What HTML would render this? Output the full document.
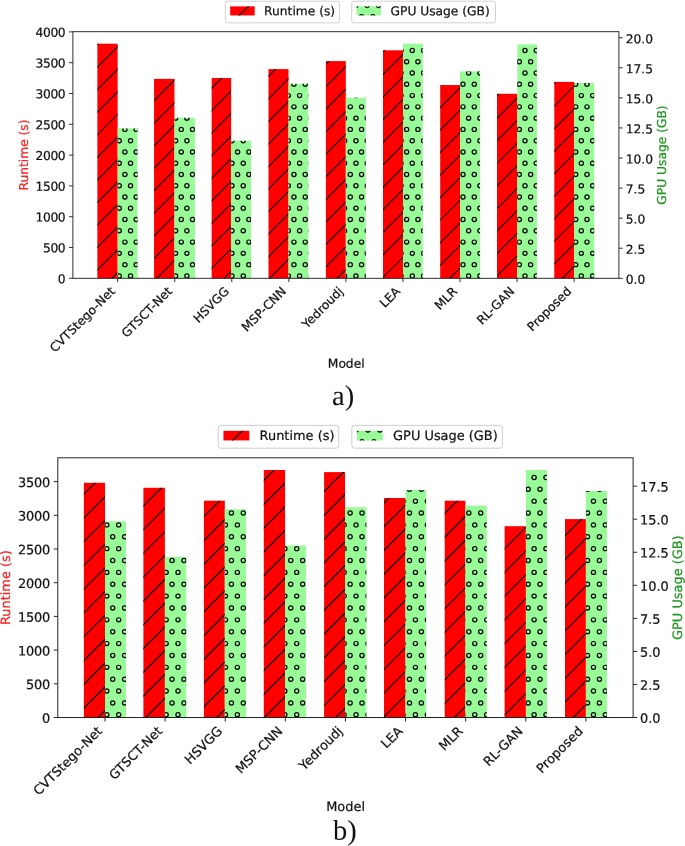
<!DOCTYPE html>
<html lang="en"><head><meta charset="utf-8"><title>Runtime and GPU usage</title>
<style>html,body{margin:0;padding:0;background:#fff;overflow:hidden}svg{display:block;will-change:transform}</style></head>
<body>
<svg width="685" height="846" viewBox="0 0 685 846" font-family="'DejaVu Sans','Liberation Sans',sans-serif" text-rendering="geometricPrecision">
<rect width="685" height="846" fill="#fff"/>
<rect x="97.35" y="43.7" width="20.3" height="234.6" fill="#ff0000" stroke="none"/>
<clipPath id="ca1"><rect x="97.35" y="43.7" width="20.3" height="234.6"/></clipPath>
<path clip-path="url(#ca1)" d="M95.35 46.61L119.65 22.31M95.35 69.15L119.65 44.85M95.35 91.69L119.65 67.39M95.35 114.23L119.65 89.93M95.35 136.77L119.65 112.47M95.35 159.31L119.65 135.01M95.35 181.85L119.65 157.55M95.35 204.39L119.65 180.09M95.35 226.93L119.65 202.63M95.35 249.47L119.65 225.17M95.35 272.01L119.65 247.71M95.35 294.55L119.65 270.25" stroke="#000" stroke-width="1.05" fill="none"/>
<rect x="117.65" y="128.4" width="19.85" height="149.9" fill="#98fb98" stroke="none"/>
<clipPath id="ca2"><rect x="117.65" y="128.4" width="19.85" height="149.9"/></clipPath>
<g clip-path="url(#ca2)" fill="none" stroke="#000" stroke-width="1.22"><circle cx="124.9" cy="129.4" r="2.1"/><circle cx="136.17" cy="129.4" r="2.1"/><circle cx="119.27" cy="140.67" r="2.1"/><circle cx="130.53" cy="140.67" r="2.1"/><circle cx="124.9" cy="151.94" r="2.1"/><circle cx="136.17" cy="151.94" r="2.1"/><circle cx="119.27" cy="163.21" r="2.1"/><circle cx="130.53" cy="163.21" r="2.1"/><circle cx="124.9" cy="174.48" r="2.1"/><circle cx="136.17" cy="174.48" r="2.1"/><circle cx="119.27" cy="185.75" r="2.1"/><circle cx="130.53" cy="185.75" r="2.1"/><circle cx="124.9" cy="197.02" r="2.1"/><circle cx="136.17" cy="197.02" r="2.1"/><circle cx="119.27" cy="208.29" r="2.1"/><circle cx="130.53" cy="208.29" r="2.1"/><circle cx="124.9" cy="219.56" r="2.1"/><circle cx="136.17" cy="219.56" r="2.1"/><circle cx="119.27" cy="230.83" r="2.1"/><circle cx="130.53" cy="230.83" r="2.1"/><circle cx="124.9" cy="242.1" r="2.1"/><circle cx="136.17" cy="242.1" r="2.1"/><circle cx="119.27" cy="253.37" r="2.1"/><circle cx="130.53" cy="253.37" r="2.1"/><circle cx="124.9" cy="264.64" r="2.1"/><circle cx="136.17" cy="264.64" r="2.1"/><circle cx="119.27" cy="275.91" r="2.1"/><circle cx="130.53" cy="275.91" r="2.1"/></g>
<rect x="154.05" y="78.9" width="20.4" height="199.4" fill="#ff0000" stroke="none"/>
<clipPath id="ca3"><rect x="154.05" y="78.9" width="20.4" height="199.4"/></clipPath>
<path clip-path="url(#ca3)" d="M152.05 80.07L176.45 55.67M152.05 102.61L176.45 78.21M152.05 125.15L176.45 100.75M152.05 147.69L176.45 123.29M152.05 170.23L176.45 145.83M152.05 192.77L176.45 168.37M152.05 215.31L176.45 190.91M152.05 237.85L176.45 213.45M152.05 260.39L176.45 235.99M152.05 282.93L176.45 258.53" stroke="#000" stroke-width="1.05" fill="none"/>
<rect x="174.45" y="117.8" width="20.45" height="160.5" fill="#98fb98" stroke="none"/>
<clipPath id="ca4"><rect x="174.45" y="117.8" width="20.45" height="160.5"/></clipPath>
<g clip-path="url(#ca4)" fill="none" stroke="#000" stroke-width="1.22"><circle cx="175.62" cy="118.13" r="2.1"/><circle cx="186.88" cy="118.13" r="2.1"/><circle cx="198.16" cy="118.13" r="2.1"/><circle cx="181.25" cy="129.4" r="2.1"/><circle cx="192.52" cy="129.4" r="2.1"/><circle cx="175.62" cy="140.67" r="2.1"/><circle cx="186.88" cy="140.67" r="2.1"/><circle cx="198.16" cy="140.67" r="2.1"/><circle cx="181.25" cy="151.94" r="2.1"/><circle cx="192.52" cy="151.94" r="2.1"/><circle cx="175.62" cy="163.21" r="2.1"/><circle cx="186.88" cy="163.21" r="2.1"/><circle cx="198.16" cy="163.21" r="2.1"/><circle cx="181.25" cy="174.48" r="2.1"/><circle cx="192.52" cy="174.48" r="2.1"/><circle cx="175.62" cy="185.75" r="2.1"/><circle cx="186.88" cy="185.75" r="2.1"/><circle cx="198.16" cy="185.75" r="2.1"/><circle cx="181.25" cy="197.02" r="2.1"/><circle cx="192.52" cy="197.02" r="2.1"/><circle cx="175.62" cy="208.29" r="2.1"/><circle cx="186.88" cy="208.29" r="2.1"/><circle cx="198.16" cy="208.29" r="2.1"/><circle cx="181.25" cy="219.56" r="2.1"/><circle cx="192.52" cy="219.56" r="2.1"/><circle cx="175.62" cy="230.83" r="2.1"/><circle cx="186.88" cy="230.83" r="2.1"/><circle cx="198.16" cy="230.83" r="2.1"/><circle cx="181.25" cy="242.1" r="2.1"/><circle cx="192.52" cy="242.1" r="2.1"/><circle cx="175.62" cy="253.37" r="2.1"/><circle cx="186.88" cy="253.37" r="2.1"/><circle cx="198.16" cy="253.37" r="2.1"/><circle cx="181.25" cy="264.64" r="2.1"/><circle cx="192.52" cy="264.64" r="2.1"/><circle cx="175.62" cy="275.91" r="2.1"/><circle cx="186.88" cy="275.91" r="2.1"/><circle cx="198.16" cy="275.91" r="2.1"/></g>
<rect x="211.65" y="78" width="19.45" height="200.3" fill="#ff0000" stroke="none"/>
<clipPath id="ca5"><rect x="211.65" y="78" width="19.45" height="200.3"/></clipPath>
<path clip-path="url(#ca5)" d="M209.65 90.09L233.1 66.64M209.65 112.63L233.1 89.18M209.65 135.17L233.1 111.72M209.65 157.71L233.1 134.26M209.65 180.25L233.1 156.8M209.65 202.79L233.1 179.34M209.65 225.33L233.1 201.88M209.65 247.87L233.1 224.42M209.65 270.41L233.1 246.96M209.65 292.95L233.1 269.5" stroke="#000" stroke-width="1.05" fill="none"/>
<rect x="231.1" y="140.7" width="20" height="137.6" fill="#98fb98" stroke="none"/>
<clipPath id="ca6"><rect x="231.1" y="140.7" width="20" height="137.6"/></clipPath>
<g clip-path="url(#ca6)" fill="none" stroke="#000" stroke-width="1.22"><circle cx="231.96" cy="140.67" r="2.1"/><circle cx="243.23" cy="140.67" r="2.1"/><circle cx="237.6" cy="151.94" r="2.1"/><circle cx="248.87" cy="151.94" r="2.1"/><circle cx="231.96" cy="163.21" r="2.1"/><circle cx="243.23" cy="163.21" r="2.1"/><circle cx="237.6" cy="174.48" r="2.1"/><circle cx="248.87" cy="174.48" r="2.1"/><circle cx="231.96" cy="185.75" r="2.1"/><circle cx="243.23" cy="185.75" r="2.1"/><circle cx="237.6" cy="197.02" r="2.1"/><circle cx="248.87" cy="197.02" r="2.1"/><circle cx="231.96" cy="208.29" r="2.1"/><circle cx="243.23" cy="208.29" r="2.1"/><circle cx="237.6" cy="219.56" r="2.1"/><circle cx="248.87" cy="219.56" r="2.1"/><circle cx="231.96" cy="230.83" r="2.1"/><circle cx="243.23" cy="230.83" r="2.1"/><circle cx="237.6" cy="242.1" r="2.1"/><circle cx="248.87" cy="242.1" r="2.1"/><circle cx="231.96" cy="253.37" r="2.1"/><circle cx="243.23" cy="253.37" r="2.1"/><circle cx="237.6" cy="264.64" r="2.1"/><circle cx="248.87" cy="264.64" r="2.1"/><circle cx="231.96" cy="275.91" r="2.1"/><circle cx="243.23" cy="275.91" r="2.1"/></g>
<rect x="268.5" y="69.1" width="20" height="209.2" fill="#ff0000" stroke="none"/>
<clipPath id="ca7"><rect x="268.5" y="69.1" width="20" height="209.2"/></clipPath>
<path clip-path="url(#ca7)" d="M266.5 78.32L290.5 54.32M266.5 100.86L290.5 76.86M266.5 123.4L290.5 99.4M266.5 145.94L290.5 121.94M266.5 168.48L290.5 144.48M266.5 191.02L290.5 167.02M266.5 213.56L290.5 189.56M266.5 236.1L290.5 212.1M266.5 258.64L290.5 234.64M266.5 281.18L290.5 257.18M266.5 303.72L290.5 279.72" stroke="#000" stroke-width="1.05" fill="none"/>
<rect x="288.5" y="83.8" width="19.8" height="194.5" fill="#98fb98" stroke="none"/>
<clipPath id="ca8"><rect x="288.5" y="83.8" width="19.8" height="194.5"/></clipPath>
<g clip-path="url(#ca8)" fill="none" stroke="#000" stroke-width="1.22"><circle cx="293.95" cy="84.32" r="2.1"/><circle cx="305.22" cy="84.32" r="2.1"/><circle cx="288.31" cy="95.59" r="2.1"/><circle cx="299.58" cy="95.59" r="2.1"/><circle cx="310.86" cy="95.59" r="2.1"/><circle cx="293.95" cy="106.86" r="2.1"/><circle cx="305.22" cy="106.86" r="2.1"/><circle cx="288.31" cy="118.13" r="2.1"/><circle cx="299.58" cy="118.13" r="2.1"/><circle cx="310.86" cy="118.13" r="2.1"/><circle cx="293.95" cy="129.4" r="2.1"/><circle cx="305.22" cy="129.4" r="2.1"/><circle cx="288.31" cy="140.67" r="2.1"/><circle cx="299.58" cy="140.67" r="2.1"/><circle cx="310.86" cy="140.67" r="2.1"/><circle cx="293.95" cy="151.94" r="2.1"/><circle cx="305.22" cy="151.94" r="2.1"/><circle cx="288.31" cy="163.21" r="2.1"/><circle cx="299.58" cy="163.21" r="2.1"/><circle cx="310.86" cy="163.21" r="2.1"/><circle cx="293.95" cy="174.48" r="2.1"/><circle cx="305.22" cy="174.48" r="2.1"/><circle cx="288.31" cy="185.75" r="2.1"/><circle cx="299.58" cy="185.75" r="2.1"/><circle cx="310.86" cy="185.75" r="2.1"/><circle cx="293.95" cy="197.02" r="2.1"/><circle cx="305.22" cy="197.02" r="2.1"/><circle cx="288.31" cy="208.29" r="2.1"/><circle cx="299.58" cy="208.29" r="2.1"/><circle cx="310.86" cy="208.29" r="2.1"/><circle cx="293.95" cy="219.56" r="2.1"/><circle cx="305.22" cy="219.56" r="2.1"/><circle cx="288.31" cy="230.83" r="2.1"/><circle cx="299.58" cy="230.83" r="2.1"/><circle cx="310.86" cy="230.83" r="2.1"/><circle cx="293.95" cy="242.1" r="2.1"/><circle cx="305.22" cy="242.1" r="2.1"/><circle cx="288.31" cy="253.37" r="2.1"/><circle cx="299.58" cy="253.37" r="2.1"/><circle cx="310.86" cy="253.37" r="2.1"/><circle cx="293.95" cy="264.64" r="2.1"/><circle cx="305.22" cy="264.64" r="2.1"/><circle cx="288.31" cy="275.91" r="2.1"/><circle cx="299.58" cy="275.91" r="2.1"/><circle cx="310.86" cy="275.91" r="2.1"/></g>
<rect x="325.9" y="61.1" width="19.9" height="217.2" fill="#ff0000" stroke="none"/>
<clipPath id="ca9"><rect x="325.9" y="61.1" width="19.9" height="217.2"/></clipPath>
<path clip-path="url(#ca9)" d="M323.9 66L347.8 42.1M323.9 88.54L347.8 64.64M323.9 111.08L347.8 87.18M323.9 133.62L347.8 109.72M323.9 156.16L347.8 132.26M323.9 178.7L347.8 154.8M323.9 201.24L347.8 177.34M323.9 223.78L347.8 199.88M323.9 246.32L347.8 222.42M323.9 268.86L347.8 244.96M323.9 291.4L347.8 267.5" stroke="#000" stroke-width="1.05" fill="none"/>
<rect x="345.8" y="97.8" width="20" height="180.5" fill="#98fb98" stroke="none"/>
<clipPath id="ca10"><rect x="345.8" y="97.8" width="20" height="180.5"/></clipPath>
<g clip-path="url(#ca10)" fill="none" stroke="#000" stroke-width="1.22"><circle cx="344.66" cy="95.59" r="2.1"/><circle cx="355.93" cy="95.59" r="2.1"/><circle cx="367.2" cy="95.59" r="2.1"/><circle cx="350.3" cy="106.86" r="2.1"/><circle cx="361.57" cy="106.86" r="2.1"/><circle cx="344.66" cy="118.13" r="2.1"/><circle cx="355.93" cy="118.13" r="2.1"/><circle cx="367.2" cy="118.13" r="2.1"/><circle cx="350.3" cy="129.4" r="2.1"/><circle cx="361.57" cy="129.4" r="2.1"/><circle cx="344.66" cy="140.67" r="2.1"/><circle cx="355.93" cy="140.67" r="2.1"/><circle cx="367.2" cy="140.67" r="2.1"/><circle cx="350.3" cy="151.94" r="2.1"/><circle cx="361.57" cy="151.94" r="2.1"/><circle cx="344.66" cy="163.21" r="2.1"/><circle cx="355.93" cy="163.21" r="2.1"/><circle cx="367.2" cy="163.21" r="2.1"/><circle cx="350.3" cy="174.48" r="2.1"/><circle cx="361.57" cy="174.48" r="2.1"/><circle cx="344.66" cy="185.75" r="2.1"/><circle cx="355.93" cy="185.75" r="2.1"/><circle cx="367.2" cy="185.75" r="2.1"/><circle cx="350.3" cy="197.02" r="2.1"/><circle cx="361.57" cy="197.02" r="2.1"/><circle cx="344.66" cy="208.29" r="2.1"/><circle cx="355.93" cy="208.29" r="2.1"/><circle cx="367.2" cy="208.29" r="2.1"/><circle cx="350.3" cy="219.56" r="2.1"/><circle cx="361.57" cy="219.56" r="2.1"/><circle cx="344.66" cy="230.83" r="2.1"/><circle cx="355.93" cy="230.83" r="2.1"/><circle cx="367.2" cy="230.83" r="2.1"/><circle cx="350.3" cy="242.1" r="2.1"/><circle cx="361.57" cy="242.1" r="2.1"/><circle cx="344.66" cy="253.37" r="2.1"/><circle cx="355.93" cy="253.37" r="2.1"/><circle cx="367.2" cy="253.37" r="2.1"/><circle cx="350.3" cy="264.64" r="2.1"/><circle cx="361.57" cy="264.64" r="2.1"/><circle cx="344.66" cy="275.91" r="2.1"/><circle cx="355.93" cy="275.91" r="2.1"/><circle cx="367.2" cy="275.91" r="2.1"/></g>
<rect x="383" y="50.3" width="20" height="228" fill="#ff0000" stroke="none"/>
<clipPath id="ca11"><rect x="383" y="50.3" width="20" height="228"/></clipPath>
<path clip-path="url(#ca11)" d="M381 53.98L405 29.98M381 76.52L405 52.52M381 99.06L405 75.06M381 121.6L405 97.6M381 144.14L405 120.14M381 166.68L405 142.68M381 189.22L405 165.22M381 211.76L405 187.76M381 234.3L405 210.3M381 256.84L405 232.84M381 279.38L405 255.38M381 301.92L405 277.92" stroke="#000" stroke-width="1.05" fill="none"/>
<rect x="403" y="43.6" width="19.8" height="234.7" fill="#98fb98" stroke="none"/>
<clipPath id="ca12"><rect x="403" y="43.6" width="19.8" height="234.7"/></clipPath>
<g clip-path="url(#ca12)" fill="none" stroke="#000" stroke-width="1.22"><circle cx="401.01" cy="50.51" r="2.1"/><circle cx="412.28" cy="50.51" r="2.1"/><circle cx="423.55" cy="50.51" r="2.1"/><circle cx="406.65" cy="61.78" r="2.1"/><circle cx="417.92" cy="61.78" r="2.1"/><circle cx="401.01" cy="73.05" r="2.1"/><circle cx="412.28" cy="73.05" r="2.1"/><circle cx="423.55" cy="73.05" r="2.1"/><circle cx="406.65" cy="84.32" r="2.1"/><circle cx="417.92" cy="84.32" r="2.1"/><circle cx="401.01" cy="95.59" r="2.1"/><circle cx="412.28" cy="95.59" r="2.1"/><circle cx="423.55" cy="95.59" r="2.1"/><circle cx="406.65" cy="106.86" r="2.1"/><circle cx="417.92" cy="106.86" r="2.1"/><circle cx="401.01" cy="118.13" r="2.1"/><circle cx="412.28" cy="118.13" r="2.1"/><circle cx="423.55" cy="118.13" r="2.1"/><circle cx="406.65" cy="129.4" r="2.1"/><circle cx="417.92" cy="129.4" r="2.1"/><circle cx="401.01" cy="140.67" r="2.1"/><circle cx="412.28" cy="140.67" r="2.1"/><circle cx="423.55" cy="140.67" r="2.1"/><circle cx="406.65" cy="151.94" r="2.1"/><circle cx="417.92" cy="151.94" r="2.1"/><circle cx="401.01" cy="163.21" r="2.1"/><circle cx="412.28" cy="163.21" r="2.1"/><circle cx="423.55" cy="163.21" r="2.1"/><circle cx="406.65" cy="174.48" r="2.1"/><circle cx="417.92" cy="174.48" r="2.1"/><circle cx="401.01" cy="185.75" r="2.1"/><circle cx="412.28" cy="185.75" r="2.1"/><circle cx="423.55" cy="185.75" r="2.1"/><circle cx="406.65" cy="197.02" r="2.1"/><circle cx="417.92" cy="197.02" r="2.1"/><circle cx="401.01" cy="208.29" r="2.1"/><circle cx="412.28" cy="208.29" r="2.1"/><circle cx="423.55" cy="208.29" r="2.1"/><circle cx="406.65" cy="219.56" r="2.1"/><circle cx="417.92" cy="219.56" r="2.1"/><circle cx="401.01" cy="230.83" r="2.1"/><circle cx="412.28" cy="230.83" r="2.1"/><circle cx="423.55" cy="230.83" r="2.1"/><circle cx="406.65" cy="242.1" r="2.1"/><circle cx="417.92" cy="242.1" r="2.1"/><circle cx="401.01" cy="253.37" r="2.1"/><circle cx="412.28" cy="253.37" r="2.1"/><circle cx="423.55" cy="253.37" r="2.1"/><circle cx="406.65" cy="264.64" r="2.1"/><circle cx="417.92" cy="264.64" r="2.1"/><circle cx="401.01" cy="275.91" r="2.1"/><circle cx="412.28" cy="275.91" r="2.1"/><circle cx="423.55" cy="275.91" r="2.1"/></g>
<rect x="440.2" y="85.05" width="19.8" height="193.25" fill="#ff0000" stroke="none"/>
<clipPath id="ca13"><rect x="440.2" y="85.05" width="19.8" height="193.25"/></clipPath>
<path clip-path="url(#ca13)" d="M438.2 86.94L462 63.14M438.2 109.48L462 85.68M438.2 132.02L462 108.22M438.2 154.56L462 130.76M438.2 177.1L462 153.3M438.2 199.64L462 175.84M438.2 222.18L462 198.38M438.2 244.72L462 220.92M438.2 267.26L462 243.46M438.2 289.8L462 266" stroke="#000" stroke-width="1.05" fill="none"/>
<rect x="460" y="71.4" width="20.1" height="206.9" fill="#98fb98" stroke="none"/>
<clipPath id="ca14"><rect x="460" y="71.4" width="20.1" height="206.9"/></clipPath>
<g clip-path="url(#ca14)" fill="none" stroke="#000" stroke-width="1.22"><circle cx="457.37" cy="73.05" r="2.1"/><circle cx="468.63" cy="73.05" r="2.1"/><circle cx="479.9" cy="73.05" r="2.1"/><circle cx="463" cy="84.32" r="2.1"/><circle cx="474.27" cy="84.32" r="2.1"/><circle cx="457.37" cy="95.59" r="2.1"/><circle cx="468.63" cy="95.59" r="2.1"/><circle cx="479.9" cy="95.59" r="2.1"/><circle cx="463" cy="106.86" r="2.1"/><circle cx="474.27" cy="106.86" r="2.1"/><circle cx="457.37" cy="118.13" r="2.1"/><circle cx="468.63" cy="118.13" r="2.1"/><circle cx="479.9" cy="118.13" r="2.1"/><circle cx="463" cy="129.4" r="2.1"/><circle cx="474.27" cy="129.4" r="2.1"/><circle cx="457.37" cy="140.67" r="2.1"/><circle cx="468.63" cy="140.67" r="2.1"/><circle cx="479.9" cy="140.67" r="2.1"/><circle cx="463" cy="151.94" r="2.1"/><circle cx="474.27" cy="151.94" r="2.1"/><circle cx="457.37" cy="163.21" r="2.1"/><circle cx="468.63" cy="163.21" r="2.1"/><circle cx="479.9" cy="163.21" r="2.1"/><circle cx="463" cy="174.48" r="2.1"/><circle cx="474.27" cy="174.48" r="2.1"/><circle cx="457.37" cy="185.75" r="2.1"/><circle cx="468.63" cy="185.75" r="2.1"/><circle cx="479.9" cy="185.75" r="2.1"/><circle cx="463" cy="197.02" r="2.1"/><circle cx="474.27" cy="197.02" r="2.1"/><circle cx="457.37" cy="208.29" r="2.1"/><circle cx="468.63" cy="208.29" r="2.1"/><circle cx="479.9" cy="208.29" r="2.1"/><circle cx="463" cy="219.56" r="2.1"/><circle cx="474.27" cy="219.56" r="2.1"/><circle cx="457.37" cy="230.83" r="2.1"/><circle cx="468.63" cy="230.83" r="2.1"/><circle cx="479.9" cy="230.83" r="2.1"/><circle cx="463" cy="242.1" r="2.1"/><circle cx="474.27" cy="242.1" r="2.1"/><circle cx="457.37" cy="253.37" r="2.1"/><circle cx="468.63" cy="253.37" r="2.1"/><circle cx="479.9" cy="253.37" r="2.1"/><circle cx="463" cy="264.64" r="2.1"/><circle cx="474.27" cy="264.64" r="2.1"/><circle cx="457.37" cy="275.91" r="2.1"/><circle cx="468.63" cy="275.91" r="2.1"/><circle cx="479.9" cy="275.91" r="2.1"/></g>
<rect x="497" y="93.8" width="20.3" height="184.5" fill="#ff0000" stroke="none"/>
<clipPath id="ca15"><rect x="497" y="93.8" width="20.3" height="184.5"/></clipPath>
<path clip-path="url(#ca15)" d="M495 97.76L519.3 73.46M495 120.3L519.3 96M495 142.84L519.3 118.54M495 165.38L519.3 141.08M495 187.92L519.3 163.62M495 210.46L519.3 186.16M495 233L519.3 208.7M495 255.54L519.3 231.24M495 278.08L519.3 253.78M495 300.62L519.3 276.32" stroke="#000" stroke-width="1.05" fill="none"/>
<rect x="517.3" y="44.4" width="19.6" height="233.9" fill="#98fb98" stroke="none"/>
<clipPath id="ca16"><rect x="517.3" y="44.4" width="19.6" height="233.9"/></clipPath>
<g clip-path="url(#ca16)" fill="none" stroke="#000" stroke-width="1.22"><circle cx="524.99" cy="50.51" r="2.1"/><circle cx="536.25" cy="50.51" r="2.1"/><circle cx="519.35" cy="61.78" r="2.1"/><circle cx="530.62" cy="61.78" r="2.1"/><circle cx="524.99" cy="73.05" r="2.1"/><circle cx="536.25" cy="73.05" r="2.1"/><circle cx="519.35" cy="84.32" r="2.1"/><circle cx="530.62" cy="84.32" r="2.1"/><circle cx="524.99" cy="95.59" r="2.1"/><circle cx="536.25" cy="95.59" r="2.1"/><circle cx="519.35" cy="106.86" r="2.1"/><circle cx="530.62" cy="106.86" r="2.1"/><circle cx="524.99" cy="118.13" r="2.1"/><circle cx="536.25" cy="118.13" r="2.1"/><circle cx="519.35" cy="129.4" r="2.1"/><circle cx="530.62" cy="129.4" r="2.1"/><circle cx="524.99" cy="140.67" r="2.1"/><circle cx="536.25" cy="140.67" r="2.1"/><circle cx="519.35" cy="151.94" r="2.1"/><circle cx="530.62" cy="151.94" r="2.1"/><circle cx="524.99" cy="163.21" r="2.1"/><circle cx="536.25" cy="163.21" r="2.1"/><circle cx="519.35" cy="174.48" r="2.1"/><circle cx="530.62" cy="174.48" r="2.1"/><circle cx="524.99" cy="185.75" r="2.1"/><circle cx="536.25" cy="185.75" r="2.1"/><circle cx="519.35" cy="197.02" r="2.1"/><circle cx="530.62" cy="197.02" r="2.1"/><circle cx="524.99" cy="208.29" r="2.1"/><circle cx="536.25" cy="208.29" r="2.1"/><circle cx="519.35" cy="219.56" r="2.1"/><circle cx="530.62" cy="219.56" r="2.1"/><circle cx="524.99" cy="230.83" r="2.1"/><circle cx="536.25" cy="230.83" r="2.1"/><circle cx="519.35" cy="242.1" r="2.1"/><circle cx="530.62" cy="242.1" r="2.1"/><circle cx="524.99" cy="253.37" r="2.1"/><circle cx="536.25" cy="253.37" r="2.1"/><circle cx="519.35" cy="264.64" r="2.1"/><circle cx="530.62" cy="264.64" r="2.1"/><circle cx="524.99" cy="275.91" r="2.1"/><circle cx="536.25" cy="275.91" r="2.1"/></g>
<rect x="554.3" y="81.9" width="19.8" height="196.4" fill="#ff0000" stroke="none"/>
<clipPath id="ca17"><rect x="554.3" y="81.9" width="19.8" height="196.4"/></clipPath>
<path clip-path="url(#ca17)" d="M552.3 85.54L576.1 61.74M552.3 108.08L576.1 84.28M552.3 130.62L576.1 106.82M552.3 153.16L576.1 129.36M552.3 175.7L576.1 151.9M552.3 198.24L576.1 174.44M552.3 220.78L576.1 196.98M552.3 243.32L576.1 219.52M552.3 265.86L576.1 242.06M552.3 288.4L576.1 264.6" stroke="#000" stroke-width="1.05" fill="none"/>
<rect x="574.1" y="83" width="20.1" height="195.3" fill="#98fb98" stroke="none"/>
<clipPath id="ca18"><rect x="574.1" y="83" width="20.1" height="195.3"/></clipPath>
<g clip-path="url(#ca18)" fill="none" stroke="#000" stroke-width="1.22"><circle cx="575.7" cy="84.32" r="2.1"/><circle cx="586.97" cy="84.32" r="2.1"/><circle cx="581.33" cy="95.59" r="2.1"/><circle cx="592.61" cy="95.59" r="2.1"/><circle cx="575.7" cy="106.86" r="2.1"/><circle cx="586.97" cy="106.86" r="2.1"/><circle cx="581.33" cy="118.13" r="2.1"/><circle cx="592.61" cy="118.13" r="2.1"/><circle cx="575.7" cy="129.4" r="2.1"/><circle cx="586.97" cy="129.4" r="2.1"/><circle cx="581.33" cy="140.67" r="2.1"/><circle cx="592.61" cy="140.67" r="2.1"/><circle cx="575.7" cy="151.94" r="2.1"/><circle cx="586.97" cy="151.94" r="2.1"/><circle cx="581.33" cy="163.21" r="2.1"/><circle cx="592.61" cy="163.21" r="2.1"/><circle cx="575.7" cy="174.48" r="2.1"/><circle cx="586.97" cy="174.48" r="2.1"/><circle cx="581.33" cy="185.75" r="2.1"/><circle cx="592.61" cy="185.75" r="2.1"/><circle cx="575.7" cy="197.02" r="2.1"/><circle cx="586.97" cy="197.02" r="2.1"/><circle cx="581.33" cy="208.29" r="2.1"/><circle cx="592.61" cy="208.29" r="2.1"/><circle cx="575.7" cy="219.56" r="2.1"/><circle cx="586.97" cy="219.56" r="2.1"/><circle cx="581.33" cy="230.83" r="2.1"/><circle cx="592.61" cy="230.83" r="2.1"/><circle cx="575.7" cy="242.1" r="2.1"/><circle cx="586.97" cy="242.1" r="2.1"/><circle cx="581.33" cy="253.37" r="2.1"/><circle cx="592.61" cy="253.37" r="2.1"/><circle cx="575.7" cy="264.64" r="2.1"/><circle cx="586.97" cy="264.64" r="2.1"/><circle cx="581.33" cy="275.91" r="2.1"/><circle cx="592.61" cy="275.91" r="2.1"/></g>
<rect x="72.9" y="31.7" width="546" height="246.6" fill="none" stroke="#1a1a1a" stroke-width="0.9"/>
<path d="M72.9 278.3h-3.8M72.9 247.5h-3.8M72.9 216.7h-3.8M72.9 185.9h-3.8M72.9 155.1h-3.8M72.9 124.3h-3.8M72.9 93.5h-3.8M72.9 62.7h-3.8M72.9 31.9h-3.8M618.9 278.3h3.8M618.9 248.23h3.8M618.9 218.16h3.8M618.9 188.09h3.8M618.9 158.02h3.8M618.9 127.95h3.8M618.9 97.88h3.8M618.9 67.81h3.8M618.9 37.74h3.8M117.7 278.3v3.8M174.75 278.3v3.8M231.8 278.3v3.8M288.85 278.3v3.8M345.9 278.3v3.8M402.95 278.3v3.8M460 278.3v3.8M517.05 278.3v3.8M574.1 278.3v3.8" stroke="#1a1a1a" stroke-width="0.9" fill="none"/>
<g font-size="12.25" fill="#111" stroke="#111" stroke-width="0.22" stroke-linejoin="round">
<text transform="translate(65.3,283.17) rotate(0.03)" text-anchor="end" letter-spacing="-0.35">0</text>
<text transform="translate(65.3,252.37) rotate(0.03)" text-anchor="end" letter-spacing="-0.35">500</text>
<text transform="translate(65.3,221.57) rotate(0.03)" text-anchor="end" letter-spacing="-0.35">1000</text>
<text transform="translate(65.3,190.77) rotate(0.03)" text-anchor="end" letter-spacing="-0.35">1500</text>
<text transform="translate(65.3,159.97) rotate(0.03)" text-anchor="end" letter-spacing="-0.35">2000</text>
<text transform="translate(65.3,129.17) rotate(0.03)" text-anchor="end" letter-spacing="-0.35">2500</text>
<text transform="translate(65.3,98.37) rotate(0.03)" text-anchor="end" letter-spacing="-0.35">3000</text>
<text transform="translate(65.3,67.57) rotate(0.03)" text-anchor="end" letter-spacing="-0.35">3500</text>
<text transform="translate(65.3,36.77) rotate(0.03)" text-anchor="end" letter-spacing="-0.35">4000</text>
<text transform="translate(625.7,283.72) rotate(0.03)">0.0</text>
<text transform="translate(625.7,253.65) rotate(0.03)">2.5</text>
<text transform="translate(625.7,223.58) rotate(0.03)">5.0</text>
<text transform="translate(625.7,193.51) rotate(0.03)">7.5</text>
<text transform="translate(625.7,163.44) rotate(0.03)">10.0</text>
<text transform="translate(625.7,133.37) rotate(0.03)">12.5</text>
<text transform="translate(625.7,103.3) rotate(0.03)">15.0</text>
<text transform="translate(625.7,73.23) rotate(0.03)">17.5</text>
<text transform="translate(625.7,43.16) rotate(0.03)">20.0</text>
<text transform="translate(115.8,292.1) rotate(-45)" text-anchor="end">CVTStego-Net</text>
<text transform="translate(172.85,292.1) rotate(-45)" text-anchor="end">GTSCT-Net</text>
<text transform="translate(229.9,292.1) rotate(-45)" text-anchor="end">HSVGG</text>
<text transform="translate(286.95,292.1) rotate(-45)" text-anchor="end">MSP-CNN</text>
<text transform="translate(344,292.1) rotate(-45)" text-anchor="end">Yedroudj</text>
<text transform="translate(401.05,292.1) rotate(-45)" text-anchor="end">LEA</text>
<text transform="translate(458.1,292.1) rotate(-45)" text-anchor="end">MLR</text>
<text transform="translate(515.15,292.1) rotate(-45)" text-anchor="end">RL-GAN</text>
<text transform="translate(572.2,292.1) rotate(-45)" text-anchor="end">Proposed</text>
<text transform="translate(27.8,155) rotate(-90)" text-anchor="middle" fill="#ff2020" stroke="#ff2020">Runtime (s)</text>
<text transform="translate(665.8,155) rotate(-90)" text-anchor="middle" fill="#1f971f" stroke="#1f971f">GPU Usage (GB)</text>
<text transform="translate(346.2,367.8) rotate(0.03)" text-anchor="middle">Model</text>
<rect x="225.3" y="1.2" width="114.3" height="21.6" rx="2.45" fill="#fff" fill-opacity="0.8" stroke="#cccccc" stroke-width="0.92"/>
<rect x="230.2" y="6.37" width="24.5" height="9.06" fill="#ff0000" stroke="none"/>
<clipPath id="ca19"><rect x="230.2" y="6.37" width="24.5" height="9.06"/></clipPath>
<path clip-path="url(#ca19)" d="M228.2 26.46L256.7 -2.04" stroke="#000" stroke-width="1.05" fill="none"/>
<text transform="translate(264.1,15.14) rotate(0.03)">Runtime (s)</text>
<rect x="351.7" y="1.2" width="143.8" height="21.6" rx="2.45" fill="#fff" fill-opacity="0.8" stroke="#cccccc" stroke-width="0.92"/>
<rect x="356.6" y="6.37" width="24.5" height="9.06" fill="#98fb98" stroke="none"/>
<clipPath id="ca20"><rect x="356.6" y="6.37" width="24.5" height="9.06"/></clipPath>
<g clip-path="url(#ca20)" fill="none" stroke="#000" stroke-width="1.22"><circle cx="355.93" cy="5.43" r="2.1"/><circle cx="367.2" cy="5.43" r="2.1"/><circle cx="378.48" cy="5.43" r="2.1"/><circle cx="361.57" cy="16.7" r="2.1"/><circle cx="372.84" cy="16.7" r="2.1"/><circle cx="384.11" cy="16.7" r="2.1"/></g>
<text transform="translate(390.5,15.14) rotate(0.03)">GPU Usage (GB)</text>
</g>
<rect x="83.85" y="482.8" width="21.15" height="234.7" fill="#ff0000" stroke="none"/>
<clipPath id="cb1"><rect x="83.85" y="482.8" width="21.15" height="234.7"/></clipPath>
<path clip-path="url(#cb1)" d="M81.85 496.15L107 471M81.85 519.91L107 494.76M81.85 543.67L107 518.52M81.85 567.43L107 542.28M81.85 591.19L107 566.04M81.85 614.95L107 589.8M81.85 638.71L107 613.56M81.85 662.47L107 637.32M81.85 686.23L107 661.08M81.85 709.99L107 684.84M81.85 733.75L107 708.6" stroke="#000" stroke-width="1.15" fill="none"/>
<rect x="105" y="521.3" width="21" height="196.2" fill="#98fb98" stroke="none"/>
<clipPath id="cb2"><rect x="105" y="521.3" width="21" height="196.2"/></clipPath>
<g clip-path="url(#cb2)" fill="none" stroke="#000" stroke-width="1.22"><circle cx="106.8" cy="524.9" r="2.1"/><circle cx="118.67" cy="524.9" r="2.1"/><circle cx="112.73" cy="536.77" r="2.1"/><circle cx="124.61" cy="536.77" r="2.1"/><circle cx="106.8" cy="548.64" r="2.1"/><circle cx="118.67" cy="548.64" r="2.1"/><circle cx="112.73" cy="560.51" r="2.1"/><circle cx="124.61" cy="560.51" r="2.1"/><circle cx="106.8" cy="572.38" r="2.1"/><circle cx="118.67" cy="572.38" r="2.1"/><circle cx="112.73" cy="584.25" r="2.1"/><circle cx="124.61" cy="584.25" r="2.1"/><circle cx="106.8" cy="596.12" r="2.1"/><circle cx="118.67" cy="596.12" r="2.1"/><circle cx="112.73" cy="607.99" r="2.1"/><circle cx="124.61" cy="607.99" r="2.1"/><circle cx="106.8" cy="619.86" r="2.1"/><circle cx="118.67" cy="619.86" r="2.1"/><circle cx="112.73" cy="631.73" r="2.1"/><circle cx="124.61" cy="631.73" r="2.1"/><circle cx="106.8" cy="643.6" r="2.1"/><circle cx="118.67" cy="643.6" r="2.1"/><circle cx="112.73" cy="655.47" r="2.1"/><circle cx="124.61" cy="655.47" r="2.1"/><circle cx="106.8" cy="667.34" r="2.1"/><circle cx="118.67" cy="667.34" r="2.1"/><circle cx="112.73" cy="679.21" r="2.1"/><circle cx="124.61" cy="679.21" r="2.1"/><circle cx="106.8" cy="691.08" r="2.1"/><circle cx="118.67" cy="691.08" r="2.1"/><circle cx="112.73" cy="702.95" r="2.1"/><circle cx="124.61" cy="702.95" r="2.1"/><circle cx="106.8" cy="714.82" r="2.1"/><circle cx="118.67" cy="714.82" r="2.1"/></g>
<rect x="143.4" y="487.8" width="21.5" height="229.7" fill="#ff0000" stroke="none"/>
<clipPath id="cb3"><rect x="143.4" y="487.8" width="21.5" height="229.7"/></clipPath>
<path clip-path="url(#cb3)" d="M141.4 507.88L166.9 482.38M141.4 531.64L166.9 506.14M141.4 555.4L166.9 529.9M141.4 579.16L166.9 553.66M141.4 602.92L166.9 577.42M141.4 626.68L166.9 601.18M141.4 650.44L166.9 624.94M141.4 674.2L166.9 648.7M141.4 697.96L166.9 672.46M141.4 721.72L166.9 696.22" stroke="#000" stroke-width="1.15" fill="none"/>
<rect x="164.9" y="556.9" width="21.4" height="160.6" fill="#98fb98" stroke="none"/>
<clipPath id="cb4"><rect x="164.9" y="556.9" width="21.4" height="160.6"/></clipPath>
<g clip-path="url(#cb4)" fill="none" stroke="#000" stroke-width="1.22"><circle cx="172.08" cy="560.51" r="2.1"/><circle cx="183.95" cy="560.51" r="2.1"/><circle cx="166.15" cy="572.38" r="2.1"/><circle cx="178.02" cy="572.38" r="2.1"/><circle cx="172.08" cy="584.25" r="2.1"/><circle cx="183.95" cy="584.25" r="2.1"/><circle cx="166.15" cy="596.12" r="2.1"/><circle cx="178.02" cy="596.12" r="2.1"/><circle cx="172.08" cy="607.99" r="2.1"/><circle cx="183.95" cy="607.99" r="2.1"/><circle cx="166.15" cy="619.86" r="2.1"/><circle cx="178.02" cy="619.86" r="2.1"/><circle cx="172.08" cy="631.73" r="2.1"/><circle cx="183.95" cy="631.73" r="2.1"/><circle cx="166.15" cy="643.6" r="2.1"/><circle cx="178.02" cy="643.6" r="2.1"/><circle cx="172.08" cy="655.47" r="2.1"/><circle cx="183.95" cy="655.47" r="2.1"/><circle cx="166.15" cy="667.34" r="2.1"/><circle cx="178.02" cy="667.34" r="2.1"/><circle cx="172.08" cy="679.21" r="2.1"/><circle cx="183.95" cy="679.21" r="2.1"/><circle cx="166.15" cy="691.08" r="2.1"/><circle cx="178.02" cy="691.08" r="2.1"/><circle cx="172.08" cy="702.95" r="2.1"/><circle cx="183.95" cy="702.95" r="2.1"/><circle cx="166.15" cy="714.82" r="2.1"/><circle cx="178.02" cy="714.82" r="2.1"/></g>
<rect x="203.9" y="500.7" width="20.9" height="216.8" fill="#ff0000" stroke="none"/>
<clipPath id="cb5"><rect x="203.9" y="500.7" width="20.9" height="216.8"/></clipPath>
<path clip-path="url(#cb5)" d="M201.9 518.66L226.8 493.76M201.9 542.42L226.8 517.52M201.9 566.18L226.8 541.28M201.9 589.94L226.8 565.04M201.9 613.7L226.8 588.8M201.9 637.46L226.8 612.56M201.9 661.22L226.8 636.32M201.9 684.98L226.8 660.08M201.9 708.74L226.8 683.84M201.9 732.5L226.8 707.6" stroke="#000" stroke-width="1.15" fill="none"/>
<rect x="224.8" y="509.3" width="21.2" height="208.2" fill="#98fb98" stroke="none"/>
<clipPath id="cb6"><rect x="224.8" y="509.3" width="21.2" height="208.2"/></clipPath>
<g clip-path="url(#cb6)" fill="none" stroke="#000" stroke-width="1.22"><circle cx="231.44" cy="513.03" r="2.1"/><circle cx="243.31" cy="513.03" r="2.1"/><circle cx="225.5" cy="524.9" r="2.1"/><circle cx="237.37" cy="524.9" r="2.1"/><circle cx="249.24" cy="524.9" r="2.1"/><circle cx="231.44" cy="536.77" r="2.1"/><circle cx="243.31" cy="536.77" r="2.1"/><circle cx="225.5" cy="548.64" r="2.1"/><circle cx="237.37" cy="548.64" r="2.1"/><circle cx="249.24" cy="548.64" r="2.1"/><circle cx="231.44" cy="560.51" r="2.1"/><circle cx="243.31" cy="560.51" r="2.1"/><circle cx="225.5" cy="572.38" r="2.1"/><circle cx="237.37" cy="572.38" r="2.1"/><circle cx="249.24" cy="572.38" r="2.1"/><circle cx="231.44" cy="584.25" r="2.1"/><circle cx="243.31" cy="584.25" r="2.1"/><circle cx="225.5" cy="596.12" r="2.1"/><circle cx="237.37" cy="596.12" r="2.1"/><circle cx="249.24" cy="596.12" r="2.1"/><circle cx="231.44" cy="607.99" r="2.1"/><circle cx="243.31" cy="607.99" r="2.1"/><circle cx="225.5" cy="619.86" r="2.1"/><circle cx="237.37" cy="619.86" r="2.1"/><circle cx="249.24" cy="619.86" r="2.1"/><circle cx="231.44" cy="631.73" r="2.1"/><circle cx="243.31" cy="631.73" r="2.1"/><circle cx="225.5" cy="643.6" r="2.1"/><circle cx="237.37" cy="643.6" r="2.1"/><circle cx="249.24" cy="643.6" r="2.1"/><circle cx="231.44" cy="655.47" r="2.1"/><circle cx="243.31" cy="655.47" r="2.1"/><circle cx="225.5" cy="667.34" r="2.1"/><circle cx="237.37" cy="667.34" r="2.1"/><circle cx="249.24" cy="667.34" r="2.1"/><circle cx="231.44" cy="679.21" r="2.1"/><circle cx="243.31" cy="679.21" r="2.1"/><circle cx="225.5" cy="691.08" r="2.1"/><circle cx="237.37" cy="691.08" r="2.1"/><circle cx="249.24" cy="691.08" r="2.1"/><circle cx="231.44" cy="702.95" r="2.1"/><circle cx="243.31" cy="702.95" r="2.1"/><circle cx="225.5" cy="714.82" r="2.1"/><circle cx="237.37" cy="714.82" r="2.1"/><circle cx="249.24" cy="714.82" r="2.1"/></g>
<rect x="263.8" y="470" width="21.25" height="247.5" fill="#ff0000" stroke="none"/>
<clipPath id="cb7"><rect x="263.8" y="470" width="21.25" height="247.5"/></clipPath>
<path clip-path="url(#cb7)" d="M261.8 482.52L287.05 457.27M261.8 506.28L287.05 481.03M261.8 530.04L287.05 504.79M261.8 553.8L287.05 528.55M261.8 577.56L287.05 552.31M261.8 601.32L287.05 576.07M261.8 625.08L287.05 599.83M261.8 648.84L287.05 623.59M261.8 672.6L287.05 647.35M261.8 696.36L287.05 671.11M261.8 720.12L287.05 694.87M261.8 743.88L287.05 718.63" stroke="#000" stroke-width="1.15" fill="none"/>
<rect x="285.05" y="545.4" width="20.85" height="172.1" fill="#98fb98" stroke="none"/>
<clipPath id="cb8"><rect x="285.05" y="545.4" width="20.85" height="172.1"/></clipPath>
<g clip-path="url(#cb8)" fill="none" stroke="#000" stroke-width="1.22"><circle cx="284.85" cy="548.64" r="2.1"/><circle cx="296.72" cy="548.64" r="2.1"/><circle cx="308.59" cy="548.64" r="2.1"/><circle cx="290.78" cy="560.51" r="2.1"/><circle cx="302.65" cy="560.51" r="2.1"/><circle cx="284.85" cy="572.38" r="2.1"/><circle cx="296.72" cy="572.38" r="2.1"/><circle cx="308.59" cy="572.38" r="2.1"/><circle cx="290.78" cy="584.25" r="2.1"/><circle cx="302.65" cy="584.25" r="2.1"/><circle cx="284.85" cy="596.12" r="2.1"/><circle cx="296.72" cy="596.12" r="2.1"/><circle cx="308.59" cy="596.12" r="2.1"/><circle cx="290.78" cy="607.99" r="2.1"/><circle cx="302.65" cy="607.99" r="2.1"/><circle cx="284.85" cy="619.86" r="2.1"/><circle cx="296.72" cy="619.86" r="2.1"/><circle cx="308.59" cy="619.86" r="2.1"/><circle cx="290.78" cy="631.73" r="2.1"/><circle cx="302.65" cy="631.73" r="2.1"/><circle cx="284.85" cy="643.6" r="2.1"/><circle cx="296.72" cy="643.6" r="2.1"/><circle cx="308.59" cy="643.6" r="2.1"/><circle cx="290.78" cy="655.47" r="2.1"/><circle cx="302.65" cy="655.47" r="2.1"/><circle cx="284.85" cy="667.34" r="2.1"/><circle cx="296.72" cy="667.34" r="2.1"/><circle cx="308.59" cy="667.34" r="2.1"/><circle cx="290.78" cy="679.21" r="2.1"/><circle cx="302.65" cy="679.21" r="2.1"/><circle cx="284.85" cy="691.08" r="2.1"/><circle cx="296.72" cy="691.08" r="2.1"/><circle cx="308.59" cy="691.08" r="2.1"/><circle cx="290.78" cy="702.95" r="2.1"/><circle cx="302.65" cy="702.95" r="2.1"/><circle cx="284.85" cy="714.82" r="2.1"/><circle cx="296.72" cy="714.82" r="2.1"/><circle cx="308.59" cy="714.82" r="2.1"/></g>
<rect x="324.1" y="472.1" width="20.9" height="245.4" fill="#ff0000" stroke="none"/>
<clipPath id="cb9"><rect x="324.1" y="472.1" width="20.9" height="245.4"/></clipPath>
<path clip-path="url(#cb9)" d="M322.1 493.5L347 468.6M322.1 517.26L347 492.36M322.1 541.02L347 516.12M322.1 564.78L347 539.88M322.1 588.54L347 563.64M322.1 612.3L347 587.4M322.1 636.06L347 611.16M322.1 659.82L347 634.92M322.1 683.58L347 658.68M322.1 707.34L347 682.44M322.1 731.1L347 706.2" stroke="#000" stroke-width="1.15" fill="none"/>
<rect x="345" y="507.2" width="21.4" height="210.3" fill="#98fb98" stroke="none"/>
<clipPath id="cb10"><rect x="345" y="507.2" width="21.4" height="210.3"/></clipPath>
<g clip-path="url(#cb10)" fill="none" stroke="#000" stroke-width="1.22"><circle cx="350.13" cy="513.03" r="2.1"/><circle cx="362" cy="513.03" r="2.1"/><circle cx="344.2" cy="524.9" r="2.1"/><circle cx="356.07" cy="524.9" r="2.1"/><circle cx="367.94" cy="524.9" r="2.1"/><circle cx="350.13" cy="536.77" r="2.1"/><circle cx="362" cy="536.77" r="2.1"/><circle cx="344.2" cy="548.64" r="2.1"/><circle cx="356.07" cy="548.64" r="2.1"/><circle cx="367.94" cy="548.64" r="2.1"/><circle cx="350.13" cy="560.51" r="2.1"/><circle cx="362" cy="560.51" r="2.1"/><circle cx="344.2" cy="572.38" r="2.1"/><circle cx="356.07" cy="572.38" r="2.1"/><circle cx="367.94" cy="572.38" r="2.1"/><circle cx="350.13" cy="584.25" r="2.1"/><circle cx="362" cy="584.25" r="2.1"/><circle cx="344.2" cy="596.12" r="2.1"/><circle cx="356.07" cy="596.12" r="2.1"/><circle cx="367.94" cy="596.12" r="2.1"/><circle cx="350.13" cy="607.99" r="2.1"/><circle cx="362" cy="607.99" r="2.1"/><circle cx="344.2" cy="619.86" r="2.1"/><circle cx="356.07" cy="619.86" r="2.1"/><circle cx="367.94" cy="619.86" r="2.1"/><circle cx="350.13" cy="631.73" r="2.1"/><circle cx="362" cy="631.73" r="2.1"/><circle cx="344.2" cy="643.6" r="2.1"/><circle cx="356.07" cy="643.6" r="2.1"/><circle cx="367.94" cy="643.6" r="2.1"/><circle cx="350.13" cy="655.47" r="2.1"/><circle cx="362" cy="655.47" r="2.1"/><circle cx="344.2" cy="667.34" r="2.1"/><circle cx="356.07" cy="667.34" r="2.1"/><circle cx="367.94" cy="667.34" r="2.1"/><circle cx="350.13" cy="679.21" r="2.1"/><circle cx="362" cy="679.21" r="2.1"/><circle cx="344.2" cy="691.08" r="2.1"/><circle cx="356.07" cy="691.08" r="2.1"/><circle cx="367.94" cy="691.08" r="2.1"/><circle cx="350.13" cy="702.95" r="2.1"/><circle cx="362" cy="702.95" r="2.1"/><circle cx="344.2" cy="714.82" r="2.1"/><circle cx="356.07" cy="714.82" r="2.1"/><circle cx="367.94" cy="714.82" r="2.1"/></g>
<rect x="384" y="498" width="21.5" height="219.5" fill="#ff0000" stroke="none"/>
<clipPath id="cb11"><rect x="384" y="498" width="21.5" height="219.5"/></clipPath>
<path clip-path="url(#cb11)" d="M382 504.88L407.5 479.38M382 528.64L407.5 503.14M382 552.4L407.5 526.9M382 576.16L407.5 550.66M382 599.92L407.5 574.42M382 623.68L407.5 598.18M382 647.44L407.5 621.94M382 671.2L407.5 645.7M382 694.96L407.5 669.46M382 718.72L407.5 693.22M382 742.48L407.5 716.98" stroke="#000" stroke-width="1.15" fill="none"/>
<rect x="405.5" y="489.9" width="20.6" height="227.6" fill="#98fb98" stroke="none"/>
<clipPath id="cb12"><rect x="405.5" y="489.9" width="20.6" height="227.6"/></clipPath>
<g clip-path="url(#cb12)" fill="none" stroke="#000" stroke-width="1.22"><circle cx="409.49" cy="489.29" r="2.1"/><circle cx="421.36" cy="489.29" r="2.1"/><circle cx="403.55" cy="501.16" r="2.1"/><circle cx="415.42" cy="501.16" r="2.1"/><circle cx="427.29" cy="501.16" r="2.1"/><circle cx="409.49" cy="513.03" r="2.1"/><circle cx="421.36" cy="513.03" r="2.1"/><circle cx="403.55" cy="524.9" r="2.1"/><circle cx="415.42" cy="524.9" r="2.1"/><circle cx="427.29" cy="524.9" r="2.1"/><circle cx="409.49" cy="536.77" r="2.1"/><circle cx="421.36" cy="536.77" r="2.1"/><circle cx="403.55" cy="548.64" r="2.1"/><circle cx="415.42" cy="548.64" r="2.1"/><circle cx="427.29" cy="548.64" r="2.1"/><circle cx="409.49" cy="560.51" r="2.1"/><circle cx="421.36" cy="560.51" r="2.1"/><circle cx="403.55" cy="572.38" r="2.1"/><circle cx="415.42" cy="572.38" r="2.1"/><circle cx="427.29" cy="572.38" r="2.1"/><circle cx="409.49" cy="584.25" r="2.1"/><circle cx="421.36" cy="584.25" r="2.1"/><circle cx="403.55" cy="596.12" r="2.1"/><circle cx="415.42" cy="596.12" r="2.1"/><circle cx="427.29" cy="596.12" r="2.1"/><circle cx="409.49" cy="607.99" r="2.1"/><circle cx="421.36" cy="607.99" r="2.1"/><circle cx="403.55" cy="619.86" r="2.1"/><circle cx="415.42" cy="619.86" r="2.1"/><circle cx="427.29" cy="619.86" r="2.1"/><circle cx="409.49" cy="631.73" r="2.1"/><circle cx="421.36" cy="631.73" r="2.1"/><circle cx="403.55" cy="643.6" r="2.1"/><circle cx="415.42" cy="643.6" r="2.1"/><circle cx="427.29" cy="643.6" r="2.1"/><circle cx="409.49" cy="655.47" r="2.1"/><circle cx="421.36" cy="655.47" r="2.1"/><circle cx="403.55" cy="667.34" r="2.1"/><circle cx="415.42" cy="667.34" r="2.1"/><circle cx="427.29" cy="667.34" r="2.1"/><circle cx="409.49" cy="679.21" r="2.1"/><circle cx="421.36" cy="679.21" r="2.1"/><circle cx="403.55" cy="691.08" r="2.1"/><circle cx="415.42" cy="691.08" r="2.1"/><circle cx="427.29" cy="691.08" r="2.1"/><circle cx="409.49" cy="702.95" r="2.1"/><circle cx="421.36" cy="702.95" r="2.1"/><circle cx="403.55" cy="714.82" r="2.1"/><circle cx="415.42" cy="714.82" r="2.1"/><circle cx="427.29" cy="714.82" r="2.1"/></g>
<rect x="444.7" y="500.7" width="20.7" height="216.8" fill="#ff0000" stroke="none"/>
<clipPath id="cb13"><rect x="444.7" y="500.7" width="20.7" height="216.8"/></clipPath>
<path clip-path="url(#cb13)" d="M442.7 515.46L467.4 490.76M442.7 539.22L467.4 514.52M442.7 562.98L467.4 538.28M442.7 586.74L467.4 562.04M442.7 610.5L467.4 585.8M442.7 634.26L467.4 609.56M442.7 658.02L467.4 633.32M442.7 681.78L467.4 657.08M442.7 705.54L467.4 680.84M442.7 729.3L467.4 704.6" stroke="#000" stroke-width="1.15" fill="none"/>
<rect x="465.4" y="505.6" width="21.4" height="211.9" fill="#98fb98" stroke="none"/>
<clipPath id="cb14"><rect x="465.4" y="505.6" width="21.4" height="211.9"/></clipPath>
<g clip-path="url(#cb14)" fill="none" stroke="#000" stroke-width="1.22"><circle cx="468.83" cy="513.03" r="2.1"/><circle cx="480.7" cy="513.03" r="2.1"/><circle cx="462.9" cy="524.9" r="2.1"/><circle cx="474.77" cy="524.9" r="2.1"/><circle cx="486.64" cy="524.9" r="2.1"/><circle cx="468.83" cy="536.77" r="2.1"/><circle cx="480.7" cy="536.77" r="2.1"/><circle cx="462.9" cy="548.64" r="2.1"/><circle cx="474.77" cy="548.64" r="2.1"/><circle cx="486.64" cy="548.64" r="2.1"/><circle cx="468.83" cy="560.51" r="2.1"/><circle cx="480.7" cy="560.51" r="2.1"/><circle cx="462.9" cy="572.38" r="2.1"/><circle cx="474.77" cy="572.38" r="2.1"/><circle cx="486.64" cy="572.38" r="2.1"/><circle cx="468.83" cy="584.25" r="2.1"/><circle cx="480.7" cy="584.25" r="2.1"/><circle cx="462.9" cy="596.12" r="2.1"/><circle cx="474.77" cy="596.12" r="2.1"/><circle cx="486.64" cy="596.12" r="2.1"/><circle cx="468.83" cy="607.99" r="2.1"/><circle cx="480.7" cy="607.99" r="2.1"/><circle cx="462.9" cy="619.86" r="2.1"/><circle cx="474.77" cy="619.86" r="2.1"/><circle cx="486.64" cy="619.86" r="2.1"/><circle cx="468.83" cy="631.73" r="2.1"/><circle cx="480.7" cy="631.73" r="2.1"/><circle cx="462.9" cy="643.6" r="2.1"/><circle cx="474.77" cy="643.6" r="2.1"/><circle cx="486.64" cy="643.6" r="2.1"/><circle cx="468.83" cy="655.47" r="2.1"/><circle cx="480.7" cy="655.47" r="2.1"/><circle cx="462.9" cy="667.34" r="2.1"/><circle cx="474.77" cy="667.34" r="2.1"/><circle cx="486.64" cy="667.34" r="2.1"/><circle cx="468.83" cy="679.21" r="2.1"/><circle cx="480.7" cy="679.21" r="2.1"/><circle cx="462.9" cy="691.08" r="2.1"/><circle cx="474.77" cy="691.08" r="2.1"/><circle cx="486.64" cy="691.08" r="2.1"/><circle cx="468.83" cy="702.95" r="2.1"/><circle cx="480.7" cy="702.95" r="2.1"/><circle cx="462.9" cy="714.82" r="2.1"/><circle cx="474.77" cy="714.82" r="2.1"/><circle cx="486.64" cy="714.82" r="2.1"/></g>
<rect x="504.6" y="526.2" width="21.3" height="191.3" fill="#ff0000" stroke="none"/>
<clipPath id="cb15"><rect x="504.6" y="526.2" width="21.3" height="191.3"/></clipPath>
<path clip-path="url(#cb15)" d="M502.6 526.84L527.9 501.54M502.6 550.6L527.9 525.3M502.6 574.36L527.9 549.06M502.6 598.12L527.9 572.82M502.6 621.88L527.9 596.58M502.6 645.64L527.9 620.34M502.6 669.4L527.9 644.1M502.6 693.16L527.9 667.86M502.6 716.92L527.9 691.62M502.6 740.68L527.9 715.38" stroke="#000" stroke-width="1.15" fill="none"/>
<rect x="525.9" y="470" width="21" height="247.5" fill="#98fb98" stroke="none"/>
<clipPath id="cb16"><rect x="525.9" y="470" width="21" height="247.5"/></clipPath>
<g clip-path="url(#cb16)" fill="none" stroke="#000" stroke-width="1.22"><circle cx="534.12" cy="477.42" r="2.1"/><circle cx="545.99" cy="477.42" r="2.1"/><circle cx="528.18" cy="489.29" r="2.1"/><circle cx="540.05" cy="489.29" r="2.1"/><circle cx="534.12" cy="501.16" r="2.1"/><circle cx="545.99" cy="501.16" r="2.1"/><circle cx="528.18" cy="513.03" r="2.1"/><circle cx="540.05" cy="513.03" r="2.1"/><circle cx="534.12" cy="524.9" r="2.1"/><circle cx="545.99" cy="524.9" r="2.1"/><circle cx="528.18" cy="536.77" r="2.1"/><circle cx="540.05" cy="536.77" r="2.1"/><circle cx="534.12" cy="548.64" r="2.1"/><circle cx="545.99" cy="548.64" r="2.1"/><circle cx="528.18" cy="560.51" r="2.1"/><circle cx="540.05" cy="560.51" r="2.1"/><circle cx="534.12" cy="572.38" r="2.1"/><circle cx="545.99" cy="572.38" r="2.1"/><circle cx="528.18" cy="584.25" r="2.1"/><circle cx="540.05" cy="584.25" r="2.1"/><circle cx="534.12" cy="596.12" r="2.1"/><circle cx="545.99" cy="596.12" r="2.1"/><circle cx="528.18" cy="607.99" r="2.1"/><circle cx="540.05" cy="607.99" r="2.1"/><circle cx="534.12" cy="619.86" r="2.1"/><circle cx="545.99" cy="619.86" r="2.1"/><circle cx="528.18" cy="631.73" r="2.1"/><circle cx="540.05" cy="631.73" r="2.1"/><circle cx="534.12" cy="643.6" r="2.1"/><circle cx="545.99" cy="643.6" r="2.1"/><circle cx="528.18" cy="655.47" r="2.1"/><circle cx="540.05" cy="655.47" r="2.1"/><circle cx="534.12" cy="667.34" r="2.1"/><circle cx="545.99" cy="667.34" r="2.1"/><circle cx="528.18" cy="679.21" r="2.1"/><circle cx="540.05" cy="679.21" r="2.1"/><circle cx="534.12" cy="691.08" r="2.1"/><circle cx="545.99" cy="691.08" r="2.1"/><circle cx="528.18" cy="702.95" r="2.1"/><circle cx="540.05" cy="702.95" r="2.1"/><circle cx="534.12" cy="714.82" r="2.1"/><circle cx="545.99" cy="714.82" r="2.1"/></g>
<rect x="565" y="519.1" width="20.9" height="198.4" fill="#ff0000" stroke="none"/>
<clipPath id="cb17"><rect x="565" y="519.1" width="20.9" height="198.4"/></clipPath>
<path clip-path="url(#cb17)" d="M563 537.72L587.9 512.82M563 561.48L587.9 536.58M563 585.24L587.9 560.34M563 609L587.9 584.1M563 632.76L587.9 607.86M563 656.52L587.9 631.62M563 680.28L587.9 655.38M563 704.04L587.9 679.14M563 727.8L587.9 702.9" stroke="#000" stroke-width="1.15" fill="none"/>
<rect x="585.9" y="490.9" width="21" height="226.6" fill="#98fb98" stroke="none"/>
<clipPath id="cb18"><rect x="585.9" y="490.9" width="21" height="226.6"/></clipPath>
<g clip-path="url(#cb18)" fill="none" stroke="#000" stroke-width="1.22"><circle cx="587.53" cy="489.29" r="2.1"/><circle cx="599.4" cy="489.29" r="2.1"/><circle cx="593.47" cy="501.16" r="2.1"/><circle cx="605.34" cy="501.16" r="2.1"/><circle cx="587.53" cy="513.03" r="2.1"/><circle cx="599.4" cy="513.03" r="2.1"/><circle cx="593.47" cy="524.9" r="2.1"/><circle cx="605.34" cy="524.9" r="2.1"/><circle cx="587.53" cy="536.77" r="2.1"/><circle cx="599.4" cy="536.77" r="2.1"/><circle cx="593.47" cy="548.64" r="2.1"/><circle cx="605.34" cy="548.64" r="2.1"/><circle cx="587.53" cy="560.51" r="2.1"/><circle cx="599.4" cy="560.51" r="2.1"/><circle cx="593.47" cy="572.38" r="2.1"/><circle cx="605.34" cy="572.38" r="2.1"/><circle cx="587.53" cy="584.25" r="2.1"/><circle cx="599.4" cy="584.25" r="2.1"/><circle cx="593.47" cy="596.12" r="2.1"/><circle cx="605.34" cy="596.12" r="2.1"/><circle cx="587.53" cy="607.99" r="2.1"/><circle cx="599.4" cy="607.99" r="2.1"/><circle cx="593.47" cy="619.86" r="2.1"/><circle cx="605.34" cy="619.86" r="2.1"/><circle cx="587.53" cy="631.73" r="2.1"/><circle cx="599.4" cy="631.73" r="2.1"/><circle cx="593.47" cy="643.6" r="2.1"/><circle cx="605.34" cy="643.6" r="2.1"/><circle cx="587.53" cy="655.47" r="2.1"/><circle cx="599.4" cy="655.47" r="2.1"/><circle cx="593.47" cy="667.34" r="2.1"/><circle cx="605.34" cy="667.34" r="2.1"/><circle cx="587.53" cy="679.21" r="2.1"/><circle cx="599.4" cy="679.21" r="2.1"/><circle cx="593.47" cy="691.08" r="2.1"/><circle cx="605.34" cy="691.08" r="2.1"/><circle cx="587.53" cy="702.95" r="2.1"/><circle cx="599.4" cy="702.95" r="2.1"/><circle cx="593.47" cy="714.82" r="2.1"/><circle cx="605.34" cy="714.82" r="2.1"/></g>
<rect x="57.8" y="457.8" width="575.3" height="259.7" fill="none" stroke="#1a1a1a" stroke-width="0.95"/>
<path d="M57.8 717.5h-4.01M57.8 683.8h-4.01M57.8 650.1h-4.01M57.8 616.4h-4.01M57.8 582.7h-4.01M57.8 549h-4.01M57.8 515.3h-4.01M57.8 481.6h-4.01M633.1 717.5h4.01M633.1 684.45h4.01M633.1 651.4h4.01M633.1 618.35h4.01M633.1 585.3h4.01M633.1 552.25h4.01M633.1 519.2h4.01M633.1 486.15h4.01M105 717.5v4.01M165.11 717.5v4.01M225.22 717.5v4.01M285.33 717.5v4.01M345.44 717.5v4.01M405.55 717.5v4.01M465.66 717.5v4.01M525.77 717.5v4.01M585.88 717.5v4.01" stroke="#1a1a1a" stroke-width="0.95" fill="none"/>
<g font-size="12.91" fill="#111" stroke="#111" stroke-width="0.22" stroke-linejoin="round">
<text transform="translate(49.91,722.81) rotate(0.03)" text-anchor="end" letter-spacing="-0.25">0</text>
<text transform="translate(49.91,689.11) rotate(0.03)" text-anchor="end" letter-spacing="-0.25">500</text>
<text transform="translate(49.91,655.41) rotate(0.03)" text-anchor="end" letter-spacing="-0.25">1000</text>
<text transform="translate(49.91,621.71) rotate(0.03)" text-anchor="end" letter-spacing="-0.25">1500</text>
<text transform="translate(49.91,588.01) rotate(0.03)" text-anchor="end" letter-spacing="-0.25">2000</text>
<text transform="translate(49.91,554.31) rotate(0.03)" text-anchor="end" letter-spacing="-0.25">2500</text>
<text transform="translate(49.91,520.61) rotate(0.03)" text-anchor="end" letter-spacing="-0.25">3000</text>
<text transform="translate(49.91,486.91) rotate(0.03)" text-anchor="end" letter-spacing="-0.25">3500</text>
<text transform="translate(640.04,722.86) rotate(0.03)">0.0</text>
<text transform="translate(640.04,689.81) rotate(0.03)">2.5</text>
<text transform="translate(640.04,656.76) rotate(0.03)">5.0</text>
<text transform="translate(640.04,623.71) rotate(0.03)">7.5</text>
<text transform="translate(640.04,590.66) rotate(0.03)">10.0</text>
<text transform="translate(640.04,557.61) rotate(0.03)">12.5</text>
<text transform="translate(640.04,524.56) rotate(0.03)">15.0</text>
<text transform="translate(640.04,491.51) rotate(0.03)">17.5</text>
<text transform="translate(102.9,731.9) rotate(-45)" text-anchor="end">CVTStego-Net</text>
<text transform="translate(163.01,731.9) rotate(-45)" text-anchor="end">GTSCT-Net</text>
<text transform="translate(223.12,731.9) rotate(-45)" text-anchor="end">HSVGG</text>
<text transform="translate(283.23,731.9) rotate(-45)" text-anchor="end">MSP-CNN</text>
<text transform="translate(343.34,731.9) rotate(-45)" text-anchor="end">Yedroudj</text>
<text transform="translate(403.45,731.9) rotate(-45)" text-anchor="end">LEA</text>
<text transform="translate(463.56,731.9) rotate(-45)" text-anchor="end">MLR</text>
<text transform="translate(523.67,731.9) rotate(-45)" text-anchor="end">RL-GAN</text>
<text transform="translate(583.78,731.9) rotate(-45)" text-anchor="end">Proposed</text>
<text transform="translate(10.2,587.65) rotate(-90)" text-anchor="middle" fill="#ff2020" stroke="#ff2020">Runtime (s)</text>
<text transform="translate(682.1,587.65) rotate(-90)" text-anchor="middle" fill="#1f971f" stroke="#1f971f">GPU Usage (GB)</text>
<text transform="translate(345.6,811) rotate(0.03)" text-anchor="middle">Model</text>
<rect x="218.3" y="425.4" width="120.4" height="22.8" rx="2.58" fill="#fff" fill-opacity="0.8" stroke="#cccccc" stroke-width="0.97"/>
<rect x="223.46" y="430.86" width="25.82" height="9.55" fill="#ff0000" stroke="none"/>
<clipPath id="cb19"><rect x="223.46" y="430.86" width="25.82" height="9.55"/></clipPath>
<path clip-path="url(#cb19)" d="M221.46 451.58L251.29 421.75" stroke="#000" stroke-width="1.15" fill="none"/>
<text transform="translate(259.62,439.96) rotate(0.03)">Runtime (s)</text>
<rect x="351.8" y="425.4" width="150.6" height="22.8" rx="2.58" fill="#fff" fill-opacity="0.8" stroke="#cccccc" stroke-width="0.97"/>
<rect x="356.96" y="430.86" width="25.82" height="9.55" fill="#98fb98" stroke="none"/>
<clipPath id="cb20"><rect x="356.96" y="430.86" width="25.82" height="9.55"/></clipPath>
<g clip-path="url(#cb20)" fill="none" stroke="#000" stroke-width="1.22"><circle cx="356.07" cy="429.94" r="2.1"/><circle cx="367.94" cy="429.94" r="2.1"/><circle cx="379.81" cy="429.94" r="2.1"/><circle cx="362" cy="441.81" r="2.1"/><circle cx="373.88" cy="441.81" r="2.1"/><circle cx="385.75" cy="441.81" r="2.1"/></g>
<text transform="translate(393.12,439.96) rotate(0.03)">GPU Usage (GB)</text>
</g>
<g font-family="'Liberation Serif','DejaVu Serif',serif" font-size="28.5" fill="#111">
<text transform="translate(332.1,404.9) rotate(0.03)">a)</text>
<text transform="translate(332.9,839.8) rotate(0.03)">b)</text>
</g>
</svg>
</body></html>
